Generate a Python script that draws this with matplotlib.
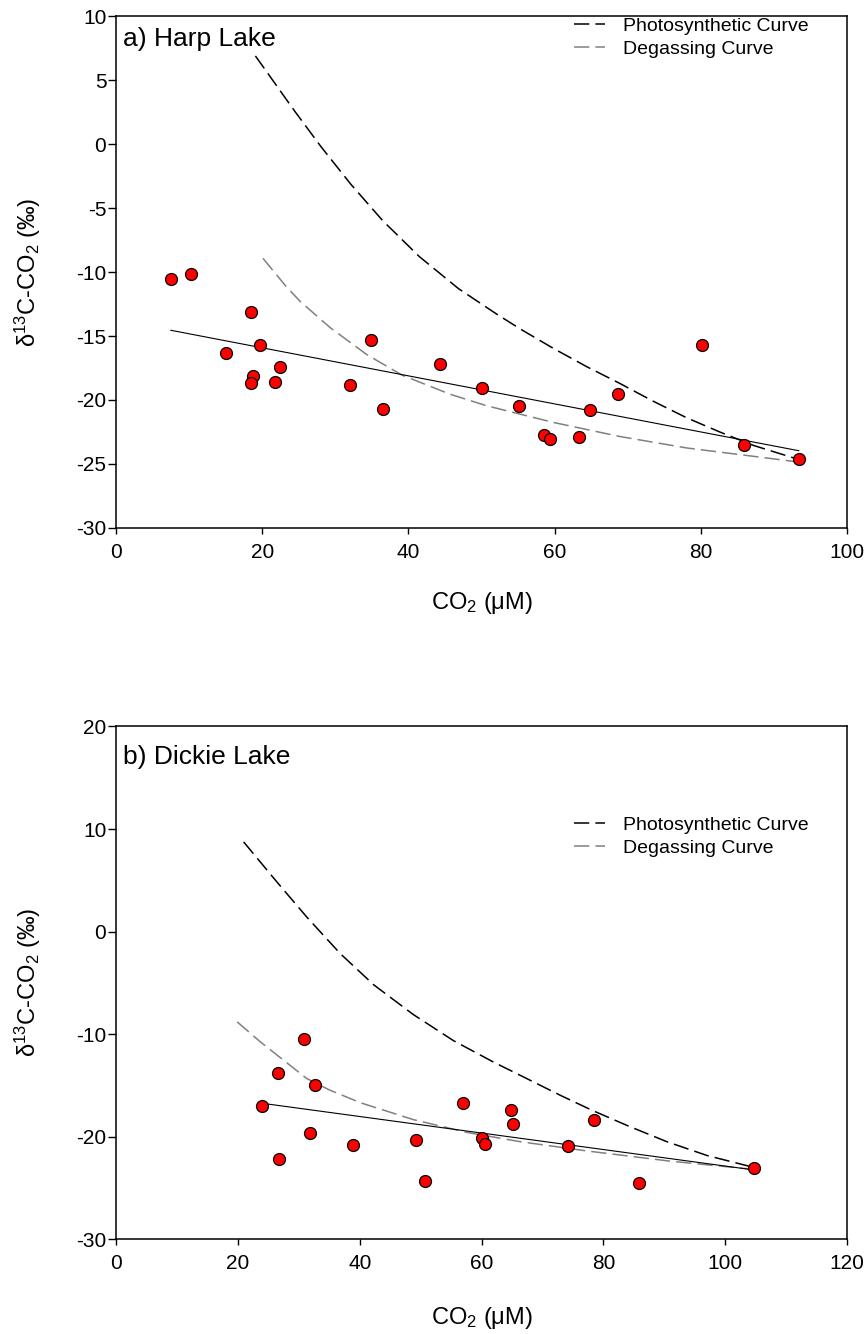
import numpy as np
import matplotlib.pyplot as plt

plt.rcParams['font.family'] = ['Liberation Sans', 'DejaVu Sans']
plt.rcParams['mathtext.fontset'] = 'custom'
plt.rcParams['mathtext.rm'] = 'Liberation Sans'
plt.rcParams['mathtext.it'] = 'Liberation Sans'
plt.rcParams['axes.unicode_minus'] = False

# a) Harp Lake
harp_co2 = [7.5, 10.3, 18.5, 15.1, 19.75, 22.4, 18.7, 18.5, 21.7, 32.05, 34.9, 36.5,
            44.3, 50.1, 55.1, 58.5, 59.3, 63.3, 64.9, 68.7, 80.1, 85.9, 93.4]
harp_d13c = [-10.57, -10.18, -13.13, -16.3, -15.68, -17.46, -18.15, -18.65, -18.6, -18.85,
             -15.3, -20.7, -17.16, -19.1, -20.47, -22.7, -23.05, -22.9, -20.8, -19.55,
             -15.73, -23.5, -24.6]
harp_photo_x = [19.07, 24.4, 28.04, 32.1, 36.5, 41.5, 46.85, 52.1, 55.3, 59.8, 64.4,
                68.9, 73.5, 78.1, 82.6, 87.2, 93.4]
harp_photo_y = [6.88, 2.6, -0.21, -3.13, -6.0, -8.8, -11.3, -13.3, -14.45, -15.96, -17.4,
                -18.7, -20.1, -21.4, -22.5, -23.55, -24.65]
harp_degas_x = [20.1, 23.3, 25.2, 29.3, 34.3, 39.1, 45.7, 50.7, 59.8, 68.9, 78.1, 87.2, 93.4]
harp_degas_y = [-8.93, -11.15, -12.3, -14.35, -16.45, -18.05, -19.55, -20.45, -21.75, -22.85,
                -23.75, -24.4, -24.85]

# b) Dickie Lake
dickie_co2 = [30.85, 26.6, 32.66, 23.9, 31.84, 26.75, 38.98, 49.3, 50.8, 56.9, 60.1, 60.6,
              64.8, 65.2, 78.4, 74.2, 85.8, 104.8]
dickie_d13c = [-10.51, -13.85, -14.97, -17.01, -19.65, -22.24, -20.82, -20.33, -24.33, -16.72,
               -20.17, -20.75, -17.37, -18.8, -18.38, -20.88, -24.53, -23.09]
dickie_photo_x = [20.95, 26.4, 31.3, 36.8, 42.3, 48.8, 55.4, 61.9, 67.4, 72.9, 78.1, 84.0,
                  90.4, 97.0, 104.6]
dickie_photo_y = [8.74, 4.84, 1.42, -2.15, -5.2, -8.1, -10.65, -12.72, -14.34, -15.97, -17.43,
                  -18.95, -20.5, -21.85, -23.0]
dickie_degas_x = [19.9, 23.7, 31.3, 35.0, 40.1, 48.8, 57.6, 66.3, 77.2, 90.9, 104.6]
dickie_degas_y = [-8.82, -10.77, -14.34, -15.45, -16.7, -18.35, -19.6, -20.5, -21.4, -22.4, -23.2]

fig = plt.figure(figsize=(8.67, 13.34), dpi=100)
ax1 = fig.add_axes([0.1338, 0.6042, 0.8432, 0.3838])
ax2 = fig.add_axes([0.1338, 0.0712, 0.8432, 0.3842])


def draw_panel(ax, co2, d13c, px, py, dx, dy, label, label_y, legend_y, xlabel_y):
    ax.plot(px, py, color='black', lw=1.1, dashes=(10, 4), label='Photosynthetic Curve')
    ax.plot(dx, dy, color='#808080', lw=1.1, dashes=(10, 4), label='Degassing Curve')
    # linear regression through the samples
    m, b = np.polyfit(co2, d13c, 1)
    xs = np.array([min(co2), max(co2)])
    ax.plot(xs, m * xs + b, color='black', lw=0.8)
    ax.plot(co2, d13c, 'o', ms=8.6, mfc='red', mec='black', mew=0.9, zorder=5)
    ax.text(0.009, label_y, label, transform=ax.transAxes, fontsize=19,
            va='baseline', ha='left')
    ax.legend(loc='upper left', bbox_to_anchor=(0.6265, legend_y), frameon=False,
              fontsize=14, handlelength=1.6, handletextpad=0.93, labelspacing=0.3,
              borderpad=0, borderaxespad=0)
    ax.set_xlabel(r'CO$_2$ (μM)', fontsize=17, va='top')
    ax.xaxis.set_label_coords(0.5, xlabel_y)
    ax.set_ylabel(r'δ$^{13}$C-CO$_2$ (‰)', fontsize=17)
    ax.yaxis.set_label_coords(-0.1, 0.5)
    ax.tick_params(axis='x', direction='out', length=4, width=1, labelsize=15, pad=7,
                   top=False)
    ax.tick_params(axis='y', direction='out', length=5.5, width=1, labelsize=15, pad=1.5,
                   right=False)
    for s in ax.spines.values():
        s.set_linewidth(1.1)


draw_panel(ax1, harp_co2, harp_d13c, harp_photo_x, harp_photo_y,
           harp_degas_x, harp_degas_y, 'a) Harp Lake', 0.941, 0.998, -0.121)
ax1.set_xlim(0, 100)
ax1.set_ylim(-30, 10)
ax1.set_xticks(np.arange(0, 101, 20))
ax1.set_yticks(np.arange(-30, 11, 5))

draw_panel(ax2, dickie_co2, dickie_d13c, dickie_photo_x, dickie_photo_y,
           dickie_degas_x, dickie_degas_y, 'b) Dickie Lake', 0.927, 0.825, -0.128)
ax2.set_xlim(0, 120)
ax2.set_ylim(-30, 20)
ax2.set_xticks(np.arange(0, 121, 20))
ax2.set_yticks(np.arange(-30, 21, 10))

fig.savefig('out.png', dpi=100)
